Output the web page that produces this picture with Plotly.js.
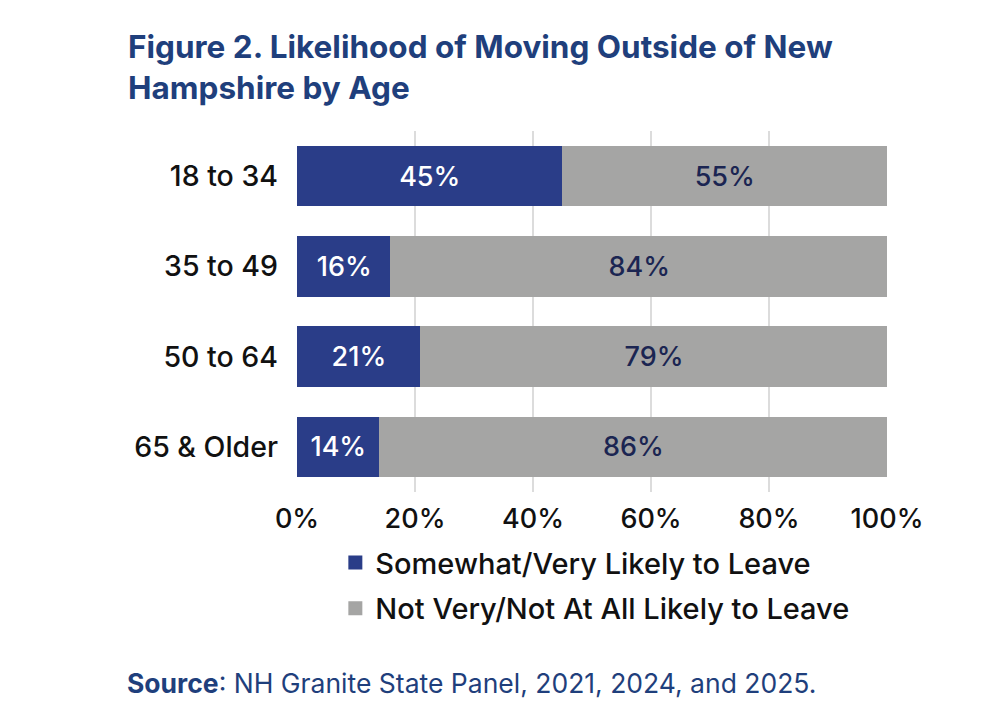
<!DOCTYPE html>
<html>
<head>
<meta charset="utf-8">
<script src="https://cdn.plot.ly/plotly-3.0.1.min.js"></script>
<style>
  html, body { margin: 0; padding: 0; background: #fff; }
  #chart { width: 1006px; height: 724px; }
</style>
</head>
<body>
<div id="chart"></div>
<script>
// age groups and shares
var ageGroups = ['18 to 34', '35 to 49', '50 to 64', '65 & Older'];
var likelyLeave = [45, 16, 21, 14];
var notLikelyLeave = [55, 84, 79, 86];
var seriesNames = ['Somewhat/Very Likely to Leave', 'Not Very/Not At All Likely to Leave'];
var xTicks = [0, 20, 40, 60, 80, 100];

var FONT = 'Inter, "Open Sans", sans-serif';

var traces = [
  {
    type: 'bar',
    orientation: 'h',
    name: seriesNames[0],
    legendgroup: 'a',
    y: ageGroups,
    x: likelyLeave,
    text: likelyLeave.map(function (v) { return v + '%'; }),
    textposition: 'inside',
    insidetextanchor: 'middle',
    textfont: { family: FONT, size: 27, weight: 500, color: '#ffffff' },
    marker: { color: '#2a3d88', line: { color: '#2a3d88', width: 2 } },
    hoverinfo: 'none'
  },
  {
    type: 'bar',
    orientation: 'h',
    name: seriesNames[1],
    legendgroup: 'b',
    y: ageGroups,
    x: notLikelyLeave,
    text: notLikelyLeave.map(function (v) { return v + '%'; }),
    textposition: 'inside',
    insidetextanchor: 'middle',
    textfont: { family: FONT, size: 27, weight: 500, color: '#1b2552' },
    marker: { color: '#a5a5a4', line: { color: '#a5a5a4', width: 2 } },
    hoverinfo: 'none'
  }
];

var layout = {
  width: 1006,
  height: 724,
  paper_bgcolor: '#ffffff',
  plot_bgcolor: '#ffffff',
  barmode: 'stack',
  bargap: 0.35,
  font: { family: FONT, color: '#111111' },
  margin: { l: 297, r: 119, t: 131, b: 232 },
  title: {
    text: '<b>Figure 2. Likelihood of Moving Outside of New<br>Hampshire by Age</b>',
    font: { family: FONT, size: 31.5, color: '#1f3f7c' },
    x: 128 / 1006,
    xanchor: 'left',
    xref: 'container',
    y: 1 - 58 / 724,
    yanchor: 'top',
    yref: 'container'
  },
  xaxis: {
    range: [0, 100],
    tickvals: xTicks,
    ticktext: xTicks.map(function (v) { return v + '%'; }),
    tickfont: { family: FONT, size: 27, weight: 500, color: '#111111' },
    showgrid: true,
    gridcolor: '#dcdcdc',
    gridwidth: 1.5,
    zeroline: false,
    showline: false,
    ticks: '',
    ticklabelstandoff: 8,
    fixedrange: true
  },
  yaxis: {
    autorange: 'reversed',
    tickfont: { family: FONT, size: 28.5, weight: 500, color: '#111111' },
    ticks: '',
    ticklabelstandoff: 18,
    showgrid: false,
    zeroline: false,
    showline: false,
    fixedrange: true
  },
  showlegend: true,
  legend: {
    orientation: 'v',
    x: 0.065,
    xanchor: 'left',
    y: -0.125,
    yanchor: 'top',
    font: { family: FONT, size: 29, weight: 500, color: '#111111' },
    traceorder: 'grouped',
    itemwidth: 30,
    tracegroupgap: 5
  },
  annotations: [
    {
      xref: 'paper',
      yref: 'paper',
      x: (125 - 297) / 590,
      y: (492 - 683) / 361,
      xanchor: 'left',
      yanchor: 'middle',
      showarrow: false,
      align: 'left',
      text: '<b>Source</b>: NH Granite State Panel, 2021, 2024, and 2025.',
      font: { family: FONT, size: 26.5, color: '#1f3f7c' }
    }
  ]
};

Plotly.newPlot('chart', traces, layout, { displayModeBar: false, staticPlot: true });
</script>
</body>
</html>
